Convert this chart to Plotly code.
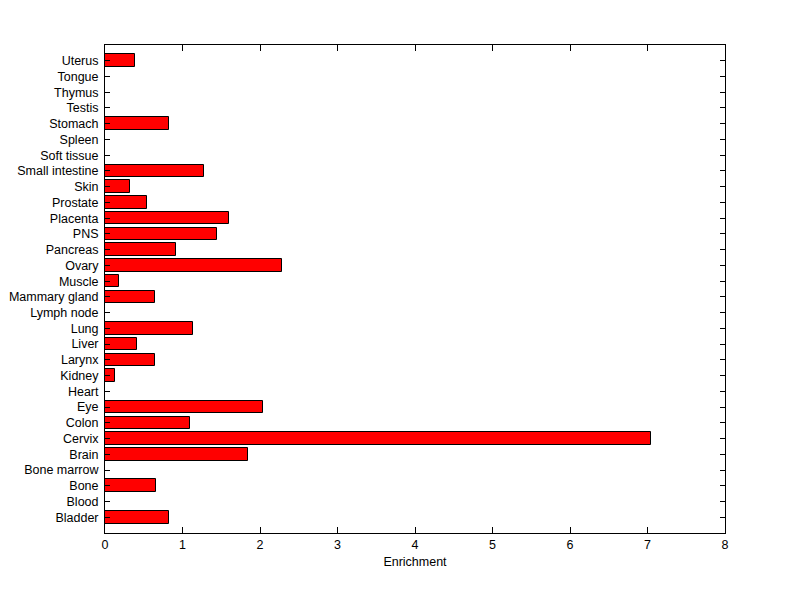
import plotly.graph_objects as go

tissues = ["Bladder", "Blood", "Bone", "Bone marrow", "Brain", "Cervix", "Colon", "Eye",
           "Heart", "Kidney", "Larynx", "Liver", "Lung", "Lymph node", "Mammary gland",
           "Muscle", "Ovary", "Pancreas", "PNS", "Placenta", "Prostate", "Skin",
           "Small intestine", "Soft tissue", "Spleen", "Stomach", "Testis", "Thymus",
           "Tongue", "Uterus"]
enrichment = [0.83, 0, 0.66, 0, 1.85, 7.04, 1.10, 2.04,
              0, 0.13, 0.65, 0.41, 1.13, 0, 0.65,
              0.18, 2.28, 0.92, 1.45, 1.60, 0.54, 0.32,
              1.28, 0, 0, 0.83, 0, 0, 0, 0.39]
x_ticks = [0, 1, 2, 3, 4, 5, 6, 7, 8]

idx = list(range(len(tissues)))
line_w = [1 if v > 0 else 0 for v in enrichment]

fig = go.Figure(go.Bar(
    x=enrichment, y=idx, orientation="h", width=0.8,
    marker=dict(color="#ff0000", line=dict(color="black", width=line_w)),
))

font = dict(family="Liberation Sans, Arial, sans-serif", size=12.5, color="black")
fig.update_layout(
    width=800, height=599,
    margin=dict(l=97, r=83, t=37, b=74),
    paper_bgcolor="white", plot_bgcolor="white",
    font=font, showlegend=False,
    bargap=0,
)
fig.update_xaxes(
    range=[0, 8], tickvals=x_ticks, ticktext=[str(t) for t in x_ticks],
    ticks="inside", ticklen=6, tickcolor="black", tickwidth=1,
    showline=True, linecolor="black", linewidth=1, mirror="ticks",
    showgrid=False, zeroline=False, automargin=False,
    title=dict(text="Enrichment", font=font, standoff=6),
)
fig.update_yaxes(
    range=[-1, 30], tickvals=idx, ticktext=tissues,
    ticks="inside", ticklen=5, tickcolor="black", tickwidth=1,
    showline=True, linecolor="black", linewidth=1, mirror="ticks",
    showgrid=False, zeroline=False, automargin=False, ticklabelstandoff=3,
)
fig.write_html("out.html")
